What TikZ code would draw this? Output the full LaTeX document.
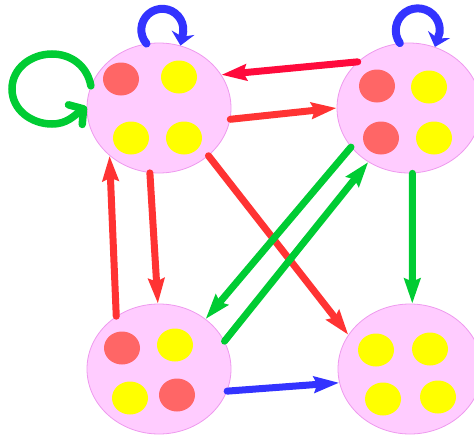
\documentclass[tikz,border=0pt]{standalone}
\usetikzlibrary{shapes.geometric,arrows.meta}
\definecolor{blobfill}{HTML}{FFCCFF}
\definecolor{blobedge}{HTML}{EE99EE}
\definecolor{dotred}{HTML}{FF6666}
\definecolor{dotyellow}{HTML}{FFFF00}
\definecolor{arred}{HTML}{FF3333}
\definecolor{arcrimson}{HTML}{FF0A3C}
\definecolor{argreen}{HTML}{00CC33}
\definecolor{arblue}{HTML}{3333FF}
\tikzset{
  blob/.style={ellipse, draw=blobedge, fill=blobfill, line width=0.8pt, minimum width=144pt, minimum height=130pt, inner sep=0pt},
  rdot/.style={ellipse, fill=dotred, minimum width=36pt, minimum height=33pt, inner sep=0pt},
  ydot/.style={ellipse, fill=dotyellow, minimum width=36pt, minimum height=33pt, inner sep=0pt},
  conn/.style={line width=7pt, line cap=round, -{Stealth[length=25pt,width=16pt,inset=3pt]}},
  redconn/.style={conn, draw=arred},
  crimsonconn/.style={conn, draw=arcrimson},
  greenconn/.style={conn, draw=argreen},
  blueconn/.style={conn, draw=arblue},
  blueloop/.style={line width=8pt, line cap=round, line join=round, draw=arblue, -{Stealth[length=13pt,width=23pt,inset=4pt]}},
  greenloop/.style={line width=7.5pt, line cap=round, draw=argreen, -{Straight Barb[length=10pt,width=24pt,round]}},
}
\begin{document}
\begin{tikzpicture}[x=1pt,y=1pt]
\useasboundingbox (0,0) rectangle (474,-434);
% blobs
\node[blob] (tl) at (159,-108) {};
\node[blob] (tr) at (409,-108) {};
\node[blob] (bl) at (159,-369) {};
\node[blob] (br) at (410,-369) {};
% dots
\node[rdot] (tla) at (121,-79) {};
\node[ydot] (tlb) at (179,-77) {};
\node[ydot] (tlc) at (131,-138) {};
\node[ydot] (tld) at (184,-138) {};
\node[rdot] (tra) at (377,-86) {};
\node[ydot] (trb) at (429,-87) {};
\node[rdot] (trc) at (381,-138) {};
\node[ydot] (trd) at (434,-138) {};
\node[rdot] (bla) at (122,-348) {};
\node[ydot] (blb) at (175,-345) {};
\node[ydot] (blc) at (130,-398) {};
\node[rdot] (bld) at (177,-395) {};
\node[ydot] (bra) at (376,-350) {};
\node[ydot] (brb) at (430,-349) {};
\node[ydot] (brc) at (383,-399) {};
\node[ydot] (brd) at (438,-397) {};
% self loops
\draw[blueloop] (tl.101) arc[start angle=221, end angle=-5, radius=21] -- (tl.71);
\draw[blueloop] (tr.98) arc[start angle=215.5, end angle=-5, radius=22] -- (tr.67);
\draw[greenloop] (tl.162) to[out=100,in=0] (52,-54) to[out=180,in=90] (12,-89)
  to[out=270,in=180] (52,-124) to[out=0,in=215] (tl.179);
% connectors
\draw[crimsonconn] (tr.138) -- (tl.28);
\draw[redconn] (tl.-9) -- (tr.180);
\draw[redconn] (tl.262) -- (bl.91);
\draw[redconn] (bl.129) -- (tl.224);
\draw[redconn] (tl.-44) -- (br.151.6);
\draw[greenconn] (tr.214) -- (bl.47.3);
\draw[greenconn] (bl.23.6) -- (tr.233.3);
\draw[greenconn] (tr.273.5) -- (br.88);
\draw[blueconn] (bl.-18.4) -- (br.191);
\end{tikzpicture}
\end{document}
